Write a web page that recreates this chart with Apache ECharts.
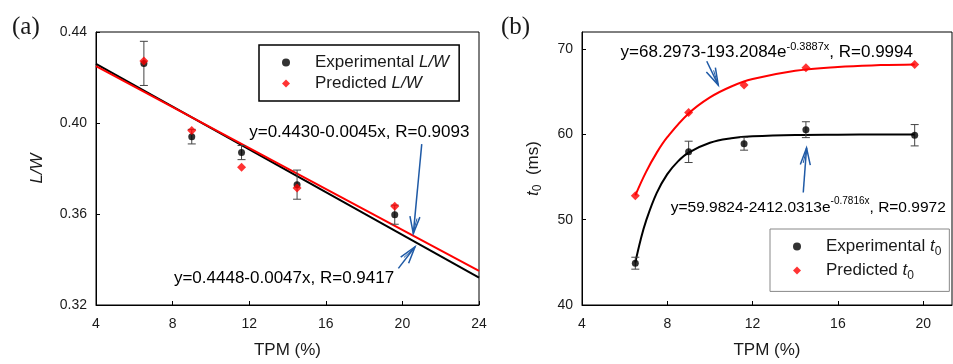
<!DOCTYPE html>
<html><head><meta charset="utf-8">
<script src="https://cdn.jsdelivr.net/npm/echarts@6/dist/echarts.min.js"></script>
<style>html,body{margin:0;padding:0;background:#fff}#c{width:953px;height:364px}</style>
</head><body><div id="c"></div>
<script>
// ---------- data ----------
const tpm = [6.5, 9.0, 11.6, 14.5, 19.6];
// panel (a): L/W
const lwExp = [0.4262, 0.3940, 0.3870, 0.3729, 0.3597];
const lwExpErr = [0.0097, 0.0032, 0.0031, 0.0064, 0.0042];
const lwPred = [0.4272, 0.3967, 0.3805, 0.3714, 0.3634];
const lwFitX = [4, 24];
const lwFitExp = [0.4260, 0.3320];   // y=0.4448-0.0047x
const lwFitPred = [0.4250, 0.3350];  // y=0.4430-0.0045x
// panel (b): t0
const t0Exp = [44.9, 57.95, 58.9, 60.55, 59.9];
const t0ExpErr = [0.7, 1.25, 0.75, 0.93, 1.25];
const t0Pred = [52.8, 62.55, 65.8, 67.8, 68.2];
const t0FitExpX = [6.5, 6.75, 7, 7.5, 8, 8.5, 9, 10, 11, 12, 14, 16, 18, 19.6];
const t0FitExp = [44.98, 47.65, 49.84, 53.12, 55.34, 56.84, 57.86, 59.01, 59.54, 59.78, 59.94, 59.97, 59.98, 59.98];
const t0FitPredX = [6.5, 7, 7.5, 8, 9, 10, 11, 12, 14, 16, 18, 19.6];
const t0FitPred = [52.85, 55.58, 57.83, 59.67, 62.45, 64.33, 65.61, 66.48, 67.46, 67.91, 68.12, 68.20];
// tick settings
const xTicksA = {min: 4, max: 24, interval: 4};
const yTicksA = {min: 0.32, max: 0.44, interval: 0.04};
const xTicksB = {min: 4, max: 21.35, interval: 4};
const yTicksB = {min: 40, max: 72, interval: 10};

// ---------- helpers ----------
const FONT = "'Liberation Sans', Arial, sans-serif";
const TXT = '#1a1a1a';
const zip = (xs, ys) => xs.map((x, i) => [x, ys[i]]);
const richBase = {
  n: {fontSize: 17, fontFamily: FONT, color: TXT, lineHeight: 22},
  m: {fontSize: 15.5, fontFamily: FONT, color: TXT, lineHeight: 22},
  f: {fontSize: 17, fontFamily: FONT, color: TXT, lineHeight: 22, padding: [0, 0, 0, 20]},
  i: {fontSize: 17, fontFamily: FONT, color: TXT, fontStyle: 'italic', lineHeight: 22},
  s: {fontSize: 12, fontFamily: FONT, color: TXT, lineHeight: 12, verticalAlign: 'bottom'},
  sup: {fontSize: 11, fontFamily: FONT, color: TXT, lineHeight: 11, verticalAlign: 'top'},
  sup2: {fontSize: 10, fontFamily: FONT, color: TXT, lineHeight: 11, verticalAlign: 'top'}
};

function errSeries(xi, yi, xs, ys, es) {
  return {
    type: 'custom', xAxisIndex: xi, yAxisIndex: yi, silent: true, z: 2,
    data: xs.map((x, i) => [x, ys[i] - es[i], ys[i] + es[i]]),
    encode: {x: 0, y: [1, 2]},
    renderItem: function (params, api) {
      const lo = api.coord([api.value(0), api.value(1)]);
      const hi = api.coord([api.value(0), api.value(2)]);
      const w = 4, st = {stroke: '#444', lineWidth: 1};
      return {type: 'group', children: [
        {type: 'line', shape: {x1: lo[0], y1: lo[1], x2: hi[0], y2: hi[1]}, style: st},
        {type: 'line', shape: {x1: lo[0] - w, y1: lo[1], x2: lo[0] + w, y2: lo[1]}, style: st},
        {type: 'line', shape: {x1: hi[0] - w, y1: hi[1], x2: hi[0] + w, y2: hi[1]}, style: st}
      ]};
    }
  };
}

function xAxisOf(gi, t) {
  return {
    type: 'value', gridIndex: gi, min: t.min, max: t.max, interval: t.interval,
    axisLine: {show: true, lineStyle: {color: '#000', width: 1}},
    axisTick: {show: true, inside: true, length: 4, lineStyle: {color: '#000'}},
    axisLabel: {fontSize: 14, color: TXT, fontFamily: FONT, margin: 12, showMaxLabel: gi === 0},
    splitLine: {show: false},
    name: 'TPM (%)', nameLocation: 'middle', nameGap: 37,
    nameTextStyle: {fontSize: 17, color: TXT, fontFamily: FONT}
  };
}

const chart = echarts.init(document.getElementById('c'), null, {renderer: 'canvas'});

const option = {
  animation: false,
  backgroundColor: '#fff',
  grid: [
    {left: 96, top: 32, width: 383, height: 275, show: true, borderColor: '#000', borderWidth: 1},
    {left: 582, top: 32, width: 370, height: 275, show: true, borderColor: '#000', borderWidth: 1}
  ],
  xAxis: [xAxisOf(0, xTicksA), xAxisOf(1, xTicksB)],
  yAxis: [
    {
      type: 'value', gridIndex: 0, min: yTicksA.min, max: yTicksA.max, interval: yTicksA.interval,
      axisLine: {show: true, lineStyle: {color: '#000'}},
      axisTick: {show: true, inside: true, length: 4, lineStyle: {color: '#000'}},
      axisLabel: {fontSize: 14, color: TXT, fontFamily: FONT, margin: 9, formatter: v => v.toFixed(2)},
      splitLine: {show: false},
      name: 'L/W', nameLocation: 'middle', nameGap: 50, nameRotate: 90,
      nameTextStyle: {fontSize: 17, color: TXT, fontFamily: FONT, fontStyle: 'italic'}
    },
    {
      type: 'value', gridIndex: 1, min: yTicksB.min, max: yTicksB.max, interval: yTicksB.interval,
      axisLine: {show: true, lineStyle: {color: '#000'}},
      axisTick: {show: true, inside: true, length: 4, lineStyle: {color: '#000'}},
      axisLabel: {fontSize: 14, color: TXT, fontFamily: FONT, margin: 9, showMaxLabel: false},
      splitLine: {show: false},
      name: '{i|t}{s|0}{n|  (ms)}', nameLocation: 'middle', nameGap: 38, nameRotate: 90,
      nameTextStyle: {rich: richBase}
    }
  ],
  legend: [
    {
      orient: 'vertical', left: 259, top: 45, selectedMode: false,
      data: [{name: 'Experimental L/W', icon: 'circle'}, {name: 'Predicted L/W', icon: 'diamond'}],
      borderColor: '#000', borderWidth: 1.5, padding: [9, 10, 9, 23], itemGap: 4,
      itemWidth: 8, itemHeight: 8,
      formatter: name => name.startsWith('Exp') ? '{f|Experimental }{i|L/W}' : '{f|Predicted }{i|L/W}',
      textStyle: {rich: richBase}
    },
    {
      orient: 'vertical', left: 770, top: 229, selectedMode: false,
      data: [{name: 'Experimental t0', icon: 'circle'}, {name: 'Predicted t0', icon: 'diamond'}],
      borderColor: '#888', borderWidth: 1, padding: [9, 8, 10, 23], itemGap: 4.4,
      itemWidth: 8, itemHeight: 8,
      formatter: name => name.startsWith('Exp') ? '{f|Experimental }{i|t}{s|0}' : '{f|Predicted }{i|t}{s|0}',
      textStyle: {rich: richBase}
    }
  ],
  series: [
    {name: 'Fit exp L/W', type: 'line', xAxisIndex: 0, yAxisIndex: 0, data: zip(lwFitX, lwFitExp),
      symbol: 'none', lineStyle: {color: '#000', width: 2}, itemStyle: {color: '#000'}, z: 1, silent: true},
    {name: 'Fit pred L/W', type: 'line', xAxisIndex: 0, yAxisIndex: 0, data: zip(lwFitX, lwFitPred),
      symbol: 'none', lineStyle: {color: '#ff0000', width: 2}, itemStyle: {color: '#ff0000'}, z: 1, silent: true},
    errSeries(0, 0, tpm, lwExp, lwExpErr),
    {name: 'Experimental L/W', type: 'scatter', xAxisIndex: 0, yAxisIndex: 0, data: zip(tpm, lwExp),
      symbol: 'circle', symbolSize: 7, itemStyle: {color: '#000'}, z: 3},
    {name: 'Predicted L/W', type: 'scatter', xAxisIndex: 0, yAxisIndex: 0, data: zip(tpm, lwPred),
      symbol: 'diamond', symbolSize: 9, itemStyle: {color: '#ff0000'}, z: 4},

    {name: 'Fit exp t0', type: 'line', xAxisIndex: 1, yAxisIndex: 1, data: zip(t0FitExpX, t0FitExp),
      smooth: 0.4, symbol: 'none', lineStyle: {color: '#000', width: 2}, itemStyle: {color: '#000'}, z: 1, silent: true},
    {name: 'Fit pred t0', type: 'line', xAxisIndex: 1, yAxisIndex: 1, data: zip(t0FitPredX, t0FitPred),
      smooth: 0.4, symbol: 'none', lineStyle: {color: '#ff0000', width: 2}, itemStyle: {color: '#ff0000'}, z: 1, silent: true},
    errSeries(1, 1, tpm, t0Exp, t0ExpErr),
    {name: 'Experimental t0', type: 'scatter', xAxisIndex: 1, yAxisIndex: 1, data: zip(tpm, t0Exp),
      symbol: 'circle', symbolSize: 7, itemStyle: {color: '#000'}, z: 3},
    {name: 'Predicted t0', type: 'scatter', xAxisIndex: 1, yAxisIndex: 1, data: zip(tpm, t0Pred),
      symbol: 'diamond', symbolSize: 9, itemStyle: {color: '#ff0000'}, z: 4}
  ]
};
chart.setOption(option);

// ---------- annotations anchored in data coordinates ----------
const notes = [
  {g: 0, at: [12.0, 0.3961], text: '{n|y=0.4430-0.0045x, R=0.9093}'},
  {g: 0, at: [8.07, 0.3318], text: '{n|y=0.4448-0.0047x, R=0.9417}'},
  {g: 1, at: [5.81, 69.65], text: '{n|y=68.2973-193.2084e}{sup|-0.3887x}{n|, R=0.9994}'},
  {g: 1, at: [8.16, 51.44], text: '{m|y=59.9824-2412.0313e}{sup2|-0.7816x}{m|, R=0.9972}'}
];
const arrows = [
  {g: 0, from: [21.01, 0.3907], to: [20.57, 0.3514]},
  {g: 0, from: [19.79, 0.3361], to: [20.66, 0.3456]},
  {g: 1, from: [9.85, 68.57], to: [10.39, 65.78]},
  {g: 1, from: [14.375, 53.19], to: [14.53, 58.42]}
];
const ARROW = '#1f5aa6';
const gfx = [];
notes.forEach(n => {
  const p = chart.convertToPixel({gridIndex: n.g}, n.at);
  gfx.push({type: 'text', x: p[0], y: p[1], z: 10,
    style: {text: n.text, rich: richBase, align: 'left', verticalAlign: 'middle'}});
});
arrows.forEach(a => {
  const s = chart.convertToPixel({gridIndex: a.g}, a.from);
  const t = chart.convertToPixel({gridIndex: a.g}, a.to);
  const dx = s[0] - t[0], dy = s[1] - t[1], L = Math.hypot(dx, dy);
  const ux = dx / L, uy = dy / L, nx = -uy, ny = ux;
  const hl = 17, hw = 5;
  const st = {stroke: ARROW, lineWidth: 1.5, fill: null};
  gfx.push({type: 'line', z: 10, shape: {x1: s[0], y1: s[1], x2: t[0], y2: t[1]}, style: st});
  gfx.push({type: 'polyline', z: 10, shape: {points: [
    [t[0] + ux * hl + nx * hw, t[1] + uy * hl + ny * hw], t,
    [t[0] + ux * hl - nx * hw, t[1] + uy * hl - ny * hw]]}, style: st});
  gfx.push({type: 'line', z: 10, shape: {x1: t[0] + ux * hl * 0.9 + nx * hw * 0.45, y1: t[1] + uy * hl * 0.9 + ny * hw * 0.45,
    x2: t[0] + ux * 2, y2: t[1] + uy * 2}, style: {stroke: ARROW, lineWidth: 1}});
});
gfx.push({type: 'text', left: 12, top: 15, z: 10,
  style: {text: '(a)', fontSize: 25, fontFamily: "'Liberation Serif', 'Times New Roman', serif", fill: TXT}});
gfx.push({type: 'text', left: 501, top: 15, z: 10,
  style: {text: '(b)', fontSize: 25, fontFamily: "'Liberation Serif', 'Times New Roman', serif", fill: TXT}});
chart.setOption({graphic: gfx});
</script>
</body></html>
